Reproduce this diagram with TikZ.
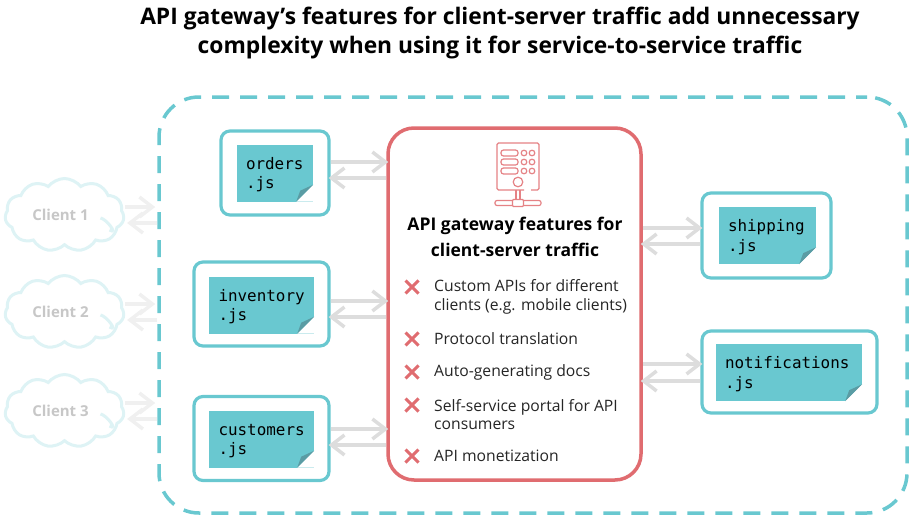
\documentclass[tikz,border=0pt]{standalone}
\usepackage{fontspec}
\setmainfont{Open Sans}
\setmonofont{DejaVu Sans Mono}
\usetikzlibrary{arrows.meta,shapes.symbols}
\definecolor{teal}{HTML}{69C8D0}
\definecolor{foldteal}{HTML}{5A9CA4}
\definecolor{gwred}{HTML}{E06C70}
\definecolor{flowgray}{HTML}{DDDDDD}
\tikzset{
  titletext/.style={font=\fontsize{22.8}{29}\selectfont\bfseries, align=center},
  cluster/.style={draw=teal, line width=3.5pt, rounded corners=40pt, dash pattern=on 17pt off 11pt, dash phase=6pt, inner sep=0pt},
  svcbox/.style={draw=teal, line width=3.2pt, rounded corners=9pt, fill=white, inner sep=0pt},
  jsnote/.style={fill=teal, inner sep=0pt, minimum height=57pt, align=left, font=\fontsize{15.9}{19.6}\ttfamily,
    execute at begin node=\rule{0pt}{15.5pt}},
  gwbox/.style={draw=gwred, line width=3.5pt, rounded corners=26pt, fill=white, inner sep=0pt},
  cloudbox/.style={cloud, cloud puffs=11, cloud puff arc=105, aspect=1.6, draw=teal!22, line width=3pt, fill=white, inner sep=0pt,
    minimum width=119pt, minimum height=73pt, text=black!22, font=\fontsize{15}{17}\selectfont\bfseries},
  flow/.style={draw=flowgray, line width=3.5pt, shorten >=-2pt, -{Straight Barb[length=13pt,width=20pt,line width=3.5pt]}},
  clientflow/.style={flow, draw=black!6, shorten >=2pt},
  feature/.style={anchor=west, align=left, inner sep=0pt, font=\fontsize{15.7}{18.5}\selectfont, text=black!85},
  crossmark/.style={draw=gwred, line width=3pt},
  icon/.style={draw=gwred!85, line width=1.2pt},
}
%% page corner of the note is cut off and folded over
\newcommand{\notefold}[1]{
  \fill[white] (#1.south east) ++(0,-17) -- ++(-17,17) -- (#1.south east) -- cycle;
  \fill[foldteal] (#1.south east) ++(0,-17) -- ++(-17,17) -- ++(4,-11) -- cycle;
}
\begin{document}
\begin{tikzpicture}[x=1pt,y=-1pt]
    \useasboundingbox (0,0) rectangle (920,522);

    %% title
    \node[titletext] (title) at (500,33) {API gateway's features for client-server traffic add unnecessary\\complexity when using it for service-to-service traffic};

    %% outer boundary
    \node[cluster, minimum width=748pt, minimum height=416pt] (mesh) at (533,305) {};

    %% clients
    \foreach \cname/\cy/\ctext in {clientone/215/Client 1,clienttwo/312/Client 2,clientthree/411/Client 3}{
        \node[cloudbox] (\cname) at (64.5,\cy) {\ctext\hspace*{8pt}};
        \draw[draw=teal!22, line width=3pt] ([shift={(36,3)}]\cname.center) .. controls +(6,1) and +(9,5) .. +(9,12);
        \draw[clientflow] ([yshift=8pt]\cname.east) -- ([yshift=8pt]\cname.east -| mesh.west);
        \draw[clientflow] ([yshift=-8pt]\cname.east -| mesh.west) -- ([yshift=-8pt]\cname.east);
    }

    %% gateway
    \node[gwbox, minimum width=253pt, minimum height=352pt] (gateway) at (514.5,304) {};

    %% services
    \node[svcbox, minimum width=108pt, minimum height=84pt] (orders) at (275,173) {};
    \node[svcbox, minimum width=135pt, minimum height=84pt] (inventory) at (261.5,304) {};
    \node[svcbox, minimum width=135pt, minimum height=84pt] (customers) at (261.5,438.5) {};
    \node[svcbox, minimum width=129pt, minimum height=85pt] (shipping) at (766.5,235.5) {};
    \node[svcbox, minimum width=175pt, minimum height=82pt] (notifications) at (789.5,372) {};

    %% notes
    \node[jsnote, minimum width=76pt, text width=58pt] (ordersjs) at (275,173) {orders\\.js};
    \node[jsnote, minimum width=105pt, text width=86pt] (inventoryjs) at (261.5,305) {inventory\\.js};
    \node[jsnote, minimum width=105pt, text width=86pt] (customersjs) at (261.5,439) {customers\\.js};
    \node[jsnote, minimum width=97pt, text width=79pt] (shippingjs) at (767.5,235.5) {shipping\\.js};
    \node[jsnote, minimum width=146pt, text width=128pt] (notificationsjs) at (789,372.5) {notifications\\.js};
    \foreach \jsname in {ordersjs,inventoryjs,customersjs,shippingjs,notificationsjs}{
        \notefold{\jsname}
    }

    %% edges
    \draw[flow] (orders.east |- 0,162) -- (gateway.west |- 0,162);
    \draw[flow] (gateway.west |- 0,178) -- (orders.east |- 0,178);
    \draw[flow] (inventory.east |- 0,301) -- (gateway.west |- 0,301);
    \draw[flow] (gateway.west |- 0,317) -- (inventory.east |- 0,317);
    \draw[flow] (customers.east |- 0,429) -- (gateway.west |- 0,429);
    \draw[flow] (gateway.west |- 0,445) -- (customers.east |- 0,445);
    \draw[flow] (gateway.east |- 0,228) -- (shipping.west |- 0,228);
    \draw[flow] (shipping.west |- 0,244) -- (gateway.east |- 0,244);
    \draw[flow] (gateway.east |- 0,364) -- (notifications.west |- 0,364);
    \draw[flow] (notifications.west |- 0,381) -- (gateway.east |- 0,381);

    %% server icon
    \draw[icon, rounded corners=1.5pt] (524,190) -- (497,190) -- (497,143) -- (539,143) -- (539,190) -- (531,190);
    \foreach \iy in {153,162,171}{
        \draw[icon, rounded corners=2.5pt] (501,\iy-3) rectangle (518,\iy+3);
        \draw[icon] (524,\iy) circle (2.8);
        \draw[icon] (532,\iy) circle (2.8);
    }
    \draw[icon] (518,182) circle (4.8);
    \draw[icon] (516,190) -- (516,200) (520,190) -- (520,200);
    \draw[icon, rounded corners=2pt] (495,200.5) rectangle (541,205.5);
    \draw[icon, fill=white, rounded corners=1pt] (512.5,199.5) rectangle (523.5,206.5);

    %% gateway text
    \node[align=center, font=\fontsize{17.5}{26}\selectfont\bfseries] (gwtitle) at (515,237) {API gateway features for\\client-server traffic};
    \foreach \fname/\fy/\ftext in {custom/297/{Custom APIs for different\\clients (e.g. mobile clients)},protocol/339/{Protocol translation},docs/372/{Auto-generating docs},portal/414.5/{Self-service portal for API\\consumers},monetize/456/{API monetization}}{
        \node[feature] (\fname) at (434,\fy) {\ftext};
    }

    %% crosses
    \foreach \fy in {287,339,372,405,456}{
        \draw[crossmark] (405.5,\fy-6.5) -- (418.5,\fy+6.5) (405.5,\fy+6.5) -- (418.5,\fy-6.5);
    }
\end{tikzpicture}
\end{document}
